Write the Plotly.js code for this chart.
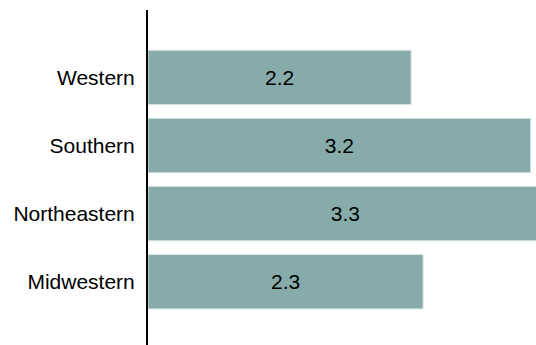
<!DOCTYPE html>
<html>
<head>
<meta charset="utf-8">
<script src="https://cdn.plot.ly/plotly-3.0.1.min.js"></script>
<style>html,body{margin:0;padding:0;background:#fff;}#chart{width:536px;height:345px;}</style>
</head>
<body>
<div id="chart"></div>
<script>
const regions = ["Midwestern", "Northeastern", "Southern", "Western"];
const values = [2.3, 3.3, 3.2, 2.2];
const labels = ["2.3", "3.3", "3.2", "2.2"];

const trace = {
  type: 'bar',
  orientation: 'h',
  y: regions,
  x: values,
  text: labels,
  textposition: 'inside',
  insidetextanchor: 'middle',
  textfont: {family: 'Liberation Sans, Arial, sans-serif', size: 21, color: '#000'},
  marker: {color: '#87abaa', line: {color: '#dde7e6', width: 1}},
  width: 0.8,
  hoverinfo: 'none'
};

const layout = {
  width: 536, height: 345,
  margin: {l: 148, r: 0, t: 10, b: 0, pad: 0},
  paper_bgcolor: '#fff', plot_bgcolor: '#fff',
  showlegend: false,
  font: {family: 'Liberation Sans, Arial, sans-serif', size: 21, color: '#000'},
  xaxis: {range: [0, 3.244], visible: false, showgrid: false, zeroline: false, fixedrange: true},
  yaxis: {
    range: [-0.93, 3.99],
    showline: true, linecolor: '#000', linewidth: 2,
    showgrid: false, zeroline: false, ticks: '',
    ticklabelstandoff: 7,
    tickfont: {size: 21, color: '#000'},
    fixedrange: true
  }
};

Plotly.newPlot('chart', [trace], layout, {displayModeBar: false, staticPlot: true});
</script>
</body>
</html>
